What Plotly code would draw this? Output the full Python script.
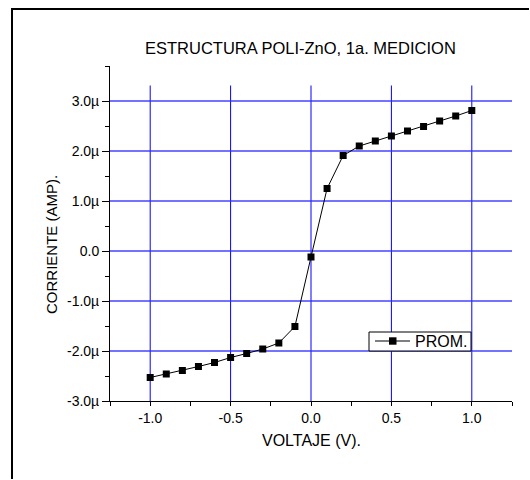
import plotly.graph_objects as go

# I-V sweep of the POLI-ZnO structure (first measurement)
voltage = [-1.0, -0.9, -0.8, -0.7, -0.6, -0.5, -0.4, -0.3, -0.2, -0.1, 0.0,
           0.1, 0.2, 0.3, 0.4, 0.5, 0.6, 0.7, 0.8, 0.9, 1.0]
current_uA = [-2.53, -2.46, -2.39, -2.31, -2.23, -2.13, -2.05, -1.96, -1.84, -1.51, -0.12,
              1.25, 1.91, 2.10, 2.20, 2.30, 2.40, 2.49, 2.60, 2.70, 2.81]
current = [c * 1e-6 for c in current_uA]

x_ticks = [-1.0, -0.5, 0.0, 0.5, 1.0]
x_ticktext = ["-1.0", "-0.5", "0.0", "0.5", "1.0"]
y_ticks_uA = [-3, -2, -1, 0, 1, 2, 3]
y_ticktext = ["-3.0µ", "-2.0µ", "-1.0µ", "0.0", "1.0µ", "2.0µ", "3.0µ"]
series_name = "PROM."

FONT = "Liberation Sans, Arial, sans-serif"
W, H = 530, 480
L, R, T, B = 110, 18, 66, 79
PW, PH = W - L - R, H - T - B


def px_x(p):
    return (p - L) / PW


def px_y(p):
    return (H - B - p) / PH


fig = go.Figure()
fig.add_trace(go.Scatter(
    x=voltage, y=current, mode="lines+markers", name=series_name,
    line=dict(color="black", width=1),
    marker=dict(symbol="square", size=7, color="black"),
    showlegend=False,
))

y_min, y_max = -3e-6, 3.7e-6
grid_top = 3.31e-6

shapes = []
# vertical grid lines
for xv in x_ticks:
    shapes.append(dict(type="line", xref="x", yref="y", x0=xv, x1=xv, y0=y_min, y1=grid_top,
                       line=dict(color="#0000ff", width=1), layer="below"))
# page frame (left and top edges), kept inside the page
shapes.append(dict(type="line", xref="paper", yref="paper",
                   x0=px_x(12), x1=px_x(12), y0=px_y(H - 1), y1=px_y(8),
                   line=dict(color="black", width=2)))
shapes.append(dict(type="line", xref="paper", yref="paper",
                   x0=px_x(11), x1=px_x(W - 1), y0=px_y(9), y1=px_y(9),
                   line=dict(color="black", width=2)))

# legend box with line-symbol-line key
leg_y = px_y(341)
shapes += [
    dict(type="rect", xref="paper", yref="paper",
         x0=px_x(369), x1=px_x(471), y0=px_y(351), y1=px_y(332),
         line=dict(color="black", width=1), fillcolor="white"),
    dict(type="line", xref="paper", yref="paper", x0=px_x(375), x1=px_x(410), y0=leg_y, y1=leg_y,
         line=dict(color="black", width=1)),
    dict(type="rect", xref="paper", yref="paper",
         x0=px_x(389), x1=px_x(396.5), y0=px_y(344.7), y1=px_y(337.3),
         line=dict(color="black", width=0), fillcolor="black"),
]

fig.update_layout(
    width=W, height=H,
    margin=dict(l=L, r=R, t=T, b=B),
    paper_bgcolor="white", plot_bgcolor="white",
    font=dict(family=FONT, size=14, color="black"),
    showlegend=False,
    xaxis=dict(range=[-1.25, 1.25], tickvals=x_ticks, ticktext=x_ticktext,
               showgrid=False, zeroline=False, showline=True, linecolor="black", linewidth=1,
               ticks="outside", ticklen=4, tickcolor="black", tickwidth=1,
               tickfont=dict(family=FONT, size=14),
               minor=dict(tickvals=[-1.25, -0.75, -0.25, 0.25, 0.75, 1.25],
                          ticks="outside", ticklen=4, tickcolor="black", showgrid=False)),
    yaxis=dict(range=[y_min, y_max], tickvals=[v * 1e-6 for v in y_ticks_uA], ticktext=y_ticktext,
               showgrid=True, gridcolor="rgba(40,40,255,0.65)", gridwidth=2,
               zeroline=False, showline=True, linecolor="black", linewidth=1,
               ticks="outside", ticklen=7, tickcolor="black", tickwidth=1,
               tickfont=dict(family=FONT, size=14),
               minor=dict(tickvals=[v * 1e-6 for v in [-2.5, -1.5, -0.5, 0.5, 1.5, 2.5, 3.7]],
                          ticks="outside", ticklen=4, tickcolor="black", showgrid=False)),
    shapes=shapes,
    annotations=[
        dict(text="ESTRUCTURA POLI-ZnO, 1a. MEDICION", xref="paper", yref="paper",
             x=px_x(300), y=px_y(48), xanchor="center", yanchor="middle", showarrow=False,
             font=dict(family=FONT, size=16.5)),
        dict(text="VOLTAJE (V).", xref="paper", yref="paper",
             x=px_x(311), y=px_y(441), xanchor="center", yanchor="middle", showarrow=False,
             font=dict(family=FONT, size=16)),
        dict(text="CORRIENTE (AMP).", xref="paper", yref="paper", textangle=-90,
             x=px_x(52), y=px_y(244), xanchor="center", yanchor="middle", showarrow=False,
             font=dict(family=FONT, size=15)),
        dict(text=series_name, xref="paper", yref="paper",
             x=px_x(413), y=leg_y, xanchor="left", yanchor="middle", showarrow=False,
             font=dict(family=FONT, size=16)),
    ],
)

fig.write_html("out.html", config={"displayModeBar": False})
